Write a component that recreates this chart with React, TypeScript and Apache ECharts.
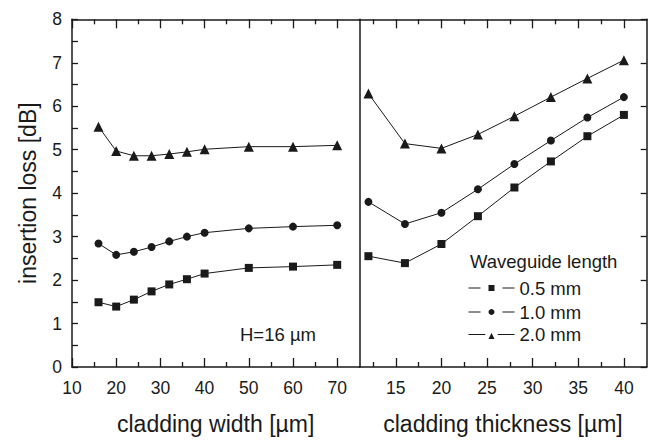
import React, { useEffect, useRef } from "react";
import * as echarts from "echarts";

// Left panel: cladding width [µm]
const widthX = [16, 20, 24, 28, 32, 36, 40, 50, 60, 70];
const width05 = [1.49, 1.39, 1.55, 1.74, 1.9, 2.02, 2.15, 2.28, 2.31, 2.35];
const width10 = [2.84, 2.58, 2.65, 2.76, 2.89, 3.0, 3.09, 3.19, 3.23, 3.26];
const width20 = [5.53, 4.97, 4.86, 4.86, 4.9, 4.95, 5.01, 5.07, 5.07, 5.1];

// Right panel: cladding thickness [µm]
const thickX = [12, 16, 20, 24, 28, 32, 36, 40];
const thick05 = [2.55, 2.39, 2.83, 3.47, 4.13, 4.73, 5.31, 5.8];
const thick10 = [3.8, 3.29, 3.55, 4.09, 4.67, 5.21, 5.74, 6.21];
const thick20 = [6.29, 5.14, 5.03, 5.35, 5.77, 6.21, 6.64, 7.06];

const seriesNames = ["0.5 mm", "1.0 mm", "2.0 mm"];
const seriesSymbols = ["rect", "circle", "triangle"];

const widthMajorTicks = [10, 20, 30, 40, 50, 60, 70];
const widthMinorTicks = [15, 25, 35, 45, 55, 65];
const thickMajorTicks = [15, 20, 25, 30, 35, 40];
const thickMinorTicks = [12.5, 17.5, 22.5, 27.5, 32.5, 37.5];

const FONT = "'Liberation Sans', Arial, Helvetica, sans-serif";
const INK = "#1a1a1a";

export default function App() {
  const ref = useRef<HTMLDivElement>(null);

  useEffect(() => {
    if (!ref.current) return;
    const chart = echarts.init(ref.current, undefined, { renderer: "svg" });

    const axisLine = { show: true, lineStyle: { color: INK, width: 1.5 } };
    const tickStyle = { color: INK, width: 1.3 };

    const xAxisSet = (
      gridIndex: number,
      min: number,
      max: number,
      major: number[],
      minor: number[],
      name: string
    ) => [
      {
        type: "value",
        gridIndex,
        position: "bottom",
        min,
        max,
        name,
        nameLocation: "middle",
        nameGap: 45,
        nameTextStyle: { fontFamily: FONT, fontSize: 23, color: INK },
        axisLine,
        axisTick: { show: true, inside: true, length: 9, lineStyle: tickStyle, customValues: major },
        axisLabel: { show: true, margin: 12, fontFamily: FONT, fontSize: 17.5, color: INK, customValues: major },
        splitLine: { show: false },
      },
      {
        type: "value",
        gridIndex,
        position: "bottom",
        min,
        max,
        axisLine: { show: false },
        axisTick: { show: true, inside: true, length: 5, lineStyle: tickStyle, customValues: minor },
        axisLabel: { show: false },
        splitLine: { show: false },
      },
      {
        type: "value",
        gridIndex,
        position: "top",
        min,
        max,
        axisLine,
        axisTick: { show: true, inside: true, length: 9, lineStyle: tickStyle, customValues: major },
        axisLabel: { show: false },
        splitLine: { show: false },
      },
      {
        type: "value",
        gridIndex,
        position: "top",
        min,
        max,
        axisLine: { show: false },
        axisTick: { show: true, inside: true, length: 5, lineStyle: tickStyle, customValues: minor },
        axisLabel: { show: false },
        splitLine: { show: false },
      },
    ];

    const leftData = [width05, width10, width20];
    const rightData = [thick05, thick10, thick20];

    const mkSeries = (xs: number[], ys: number[], i: number, xAxisIndex: number, yAxisIndex: number) => ({
      type: "line",
      name: seriesNames[i],
      xAxisIndex,
      yAxisIndex,
      data: xs.map((x, k) => [x, ys[k]]),
      symbol: seriesSymbols[i],
      symbolSize: i === 2 ? 10 : 8,
      showSymbol: true,
      lineStyle: { color: INK, width: 1 },
      itemStyle: { color: INK },
      emphasis: { disabled: true },
    });

    const legendBorder = [8, 8, 5];

    chart.setOption({
      animation: false,
      backgroundColor: "#ffffff",
      textStyle: { fontFamily: FONT },
      grid: [
        { left: 72, top: 19.3, width: 287.3, height: 351.7 },
        { left: 359.3, top: 19.3, width: 287.4, height: 351.7 },
      ],
      xAxis: [
        ...xAxisSet(0, 10, 75, widthMajorTicks, widthMinorTicks, "cladding width [µm]"),
        ...xAxisSet(1, 11, 42.5, thickMajorTicks, thickMinorTicks, "cladding thickness [µm]"),
      ],
      yAxis: [
        {
          type: "value",
          gridIndex: 0,
          position: "left",
          min: 0,
          max: 8,
          interval: 1,
          name: "insertion loss [dB]",
          nameLocation: "middle",
          nameGap: 33,
          nameTextStyle: { fontFamily: FONT, fontSize: 23, color: INK },
          axisLine,
          axisTick: { show: true, inside: true, length: 6, lineStyle: tickStyle },
          minorTick: { show: true, splitNumber: 2, length: 6, lineStyle: tickStyle },
          axisLabel: { show: true, margin: 10, fontFamily: FONT, fontSize: 17.5, color: INK },
          splitLine: { show: false },
          minorSplitLine: { show: false },
        },
        {
          type: "value",
          gridIndex: 0,
          position: "right",
          min: 0,
          max: 8,
          interval: 1,
          axisLine,
          axisTick: { show: false },
          axisLabel: { show: false },
          splitLine: { show: false },
        },
        {
          type: "value",
          gridIndex: 1,
          position: "left",
          min: 0,
          max: 8,
          interval: 1,
          axisLine: { show: false },
          axisTick: { show: false },
          axisLabel: { show: false },
          splitLine: { show: false },
        },
        {
          type: "value",
          gridIndex: 1,
          position: "right",
          min: 0,
          max: 8,
          interval: 1,
          axisLine,
          axisTick: { show: true, inside: true, length: 6, lineStyle: tickStyle },
          axisLabel: { show: false },
          splitLine: { show: false },
        },
      ],
      legend: {
        data: seriesNames.map((name, i) => ({
          name,
          itemStyle: { borderColor: "#ffffff", borderWidth: legendBorder[i], borderJoin: "round" },
        })),
        orient: "vertical",
        left: 468,
        top: 277,
        padding: 0,
        itemWidth: 46,
        itemHeight: 17.5,
        itemGap: 2,
        selectedMode: false,
        lineStyle: { width: 1 },
        textStyle: { fontFamily: FONT, fontSize: 18.5, color: INK, lineHeight: 18 },
      },
      graphic: [
        {
          type: "text",
          left: 470,
          top: 252,
          style: { text: "Waveguide length", fontFamily: FONT, fontSize: 18.5, fill: INK },
        },
        {
          type: "text",
          left: 240,
          top: 325,
          style: { text: "H=16 µm", fontFamily: FONT, fontSize: 18.5, fill: INK },
        },
      ],
      series: [
        ...leftData.map((ys, i) => mkSeries(widthX, ys, i, 0, 0)),
        ...rightData.map((ys, i) => mkSeries(thickX, ys, i, 4, 2)),
      ],
    });

    return () => chart.dispose();
  }, []);

  return (
    <div
      ref={ref}
      style={{ position: "fixed", left: 0, top: 0, width: 651, height: 440, background: "#fff" }}
    />
  );
}
